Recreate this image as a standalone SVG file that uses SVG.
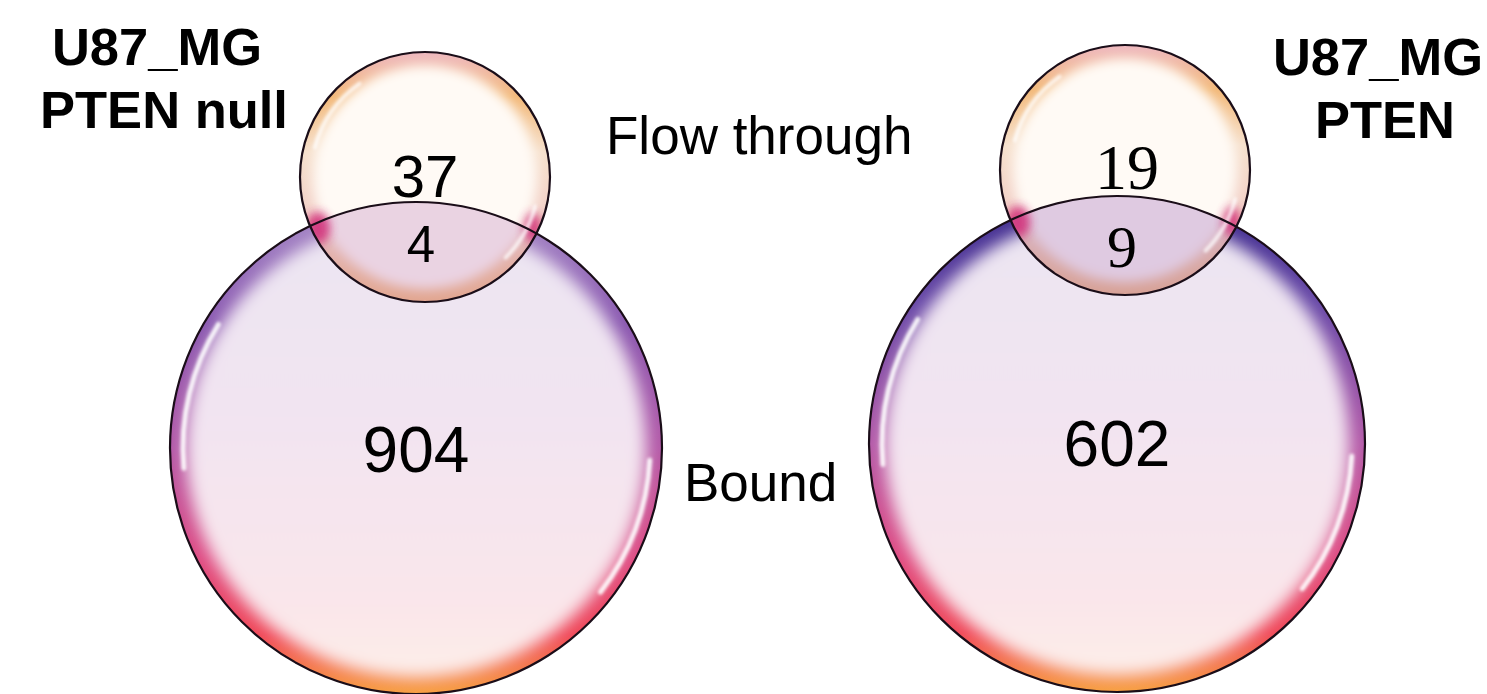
<svg xmlns="http://www.w3.org/2000/svg" width="1487" height="694" viewBox="0 0 1487 694">
<style>
.sans{font-family:"Liberation Sans",Arial,sans-serif;fill:#000}
.serif{font-family:"Liberation Serif","Times New Roman",serif;fill:#000}
.title{font-weight:bold;font-size:52.5px;text-anchor:middle}
.lbl{font-size:53px}
.num{text-anchor:middle}
.edge{fill:none;stroke:#1a0d18;stroke-width:2.2}
.hl{fill:none;stroke:#ffffff;stroke-width:5;stroke-linecap:round;opacity:0.9}
.hls{fill:none;stroke:#ffffff;stroke-width:4;stroke-linecap:round;opacity:0.75}
</style>
<defs>
<linearGradient id="rimBigL" x1="0" y1="0" x2="0" y2="1">
<stop offset="0" stop-color="#a88cc8"/>
<stop offset="0.25" stop-color="#8a58b0"/>
<stop offset="0.5" stop-color="#b45aa8"/>
<stop offset="0.72" stop-color="#de4c84"/>
<stop offset="0.88" stop-color="#f04858"/>
<stop offset="1" stop-color="#f7a040"/>
</linearGradient>
<linearGradient id="rimBigR" x1="0" y1="0" x2="0" y2="1">
<stop offset="0" stop-color="#3a2a8c"/>
<stop offset="0.22" stop-color="#6a4aa8"/>
<stop offset="0.5" stop-color="#b45aa8"/>
<stop offset="0.72" stop-color="#de4c84"/>
<stop offset="0.88" stop-color="#f04858"/>
<stop offset="1" stop-color="#f7a040"/>
</linearGradient>
<linearGradient id="innerBig" x1="0" y1="0" x2="0" y2="1">
<stop offset="0" stop-color="#ebe5f2"/>
<stop offset="0.45" stop-color="#f2e4f1"/>
<stop offset="0.85" stop-color="#fae6ea"/>
<stop offset="1" stop-color="#fdeee8"/>
</linearGradient>
<linearGradient id="rimSmall" x1="0" y1="0" x2="0" y2="1">
<stop offset="0" stop-color="#eeb8c0"/>
<stop offset="0.18" stop-color="#f2b878"/>
<stop offset="0.4" stop-color="#f6e0cc"/>
<stop offset="0.65" stop-color="#f2d0c8"/>
<stop offset="0.88" stop-color="#f0b070"/>
<stop offset="1" stop-color="#eea050"/>
</linearGradient>
<filter id="soft" x="-20%" y="-20%" width="140%" height="140%"><feGaussianBlur stdDeviation="8"/></filter>
<filter id="softS" x="-20%" y="-20%" width="140%" height="140%"><feGaussianBlur stdDeviation="6"/></filter>
<filter id="glow" x="-50%" y="-50%" width="200%" height="200%"><feGaussianBlur stdDeviation="1.6"/></filter>
<filter id="blob" x="-100%" y="-100%" width="300%" height="300%"><feGaussianBlur stdDeviation="5"/></filter>
<clipPath id="clipBigL"><circle cx="416" cy="448" r="246"/></clipPath>
<clipPath id="clipBigR"><circle cx="1117" cy="444" r="248"/></clipPath>
<clipPath id="clipSmallL"><circle cx="425" cy="177" r="125"/></clipPath>
<clipPath id="clipSmallR"><circle cx="1125" cy="170" r="125"/></clipPath>
</defs>
<rect width="1487" height="694" fill="#ffffff"/>

<g id="bound-left">
<circle cx="416" cy="448" r="246" fill="url(#rimBigL)"/>
<g clip-path="url(#clipBigL)"><circle cx="416" cy="448" r="230" fill="url(#innerBig)" filter="url(#soft)"/></g>
<g filter="url(#glow)">
<path class="hl" d="M183.9 468.3 A233 233 0 0 1 218.4 324.5"/>
<path class="hl" d="M649.7 460.2 A234 234 0 0 1 600.4 592.1"/>
</g>
</g>

<g id="flow-left">
<circle cx="425" cy="177" r="125" fill="url(#rimSmall)"/>
<g clip-path="url(#clipSmallL)"><circle cx="425" cy="177" r="112" fill="#fffaf5" filter="url(#softS)"/></g>
<g clip-path="url(#clipSmallL)">
<circle cx="416" cy="448" r="246" fill="#d6acd0" opacity="0.5"/>
<ellipse cx="318" cy="228" rx="12" ry="16" fill="#d02c78" opacity="0.85" filter="url(#blob)"/>
<ellipse cx="533" cy="228" rx="9" ry="15" fill="#d02c78" opacity="0.8" filter="url(#blob)"/>
</g>
<g filter="url(#glow)">
<path class="hls" d="M314.9 147.5 A114 114 0 0 1 359.6 83.6"/>
<path class="hls" d="M535.1 206.5 A114 114 0 0 1 505.6 257.6" stroke="#e8ecff"/>
</g>
</g>

<g id="bound-right">
<circle cx="1117" cy="444" r="248" fill="url(#rimBigR)"/>
<g clip-path="url(#clipBigR)"><circle cx="1117" cy="444" r="232" fill="url(#innerBig)" filter="url(#soft)"/></g>
<g filter="url(#glow)">
<path class="hl" d="M882.9 464.5 A235 235 0 0 1 917.7 319.5"/>
<path class="hl" d="M1351.7 456.3 A235 235 0 0 1 1302.2 588.7"/>
</g>
</g>

<g id="flow-right">
<circle cx="1125" cy="170" r="125" fill="url(#rimSmall)"/>
<g clip-path="url(#clipSmallR)"><circle cx="1125" cy="170" r="112" fill="#fffaf5" filter="url(#softS)"/></g>
<g clip-path="url(#clipSmallR)">
<circle cx="1117" cy="444" r="248" fill="#c4a2d0" opacity="0.55"/>
<ellipse cx="1018" cy="222" rx="12" ry="16" fill="#d02c78" opacity="0.85" filter="url(#blob)"/>
<ellipse cx="1232" cy="222" rx="9" ry="15" fill="#d02c78" opacity="0.8" filter="url(#blob)"/>
</g>
<g filter="url(#glow)">
<path class="hls" d="M1014.9 140.5 A114 114 0 0 1 1059.6 76.6"/>
<path class="hls" d="M1235.1 199.5 A114 114 0 0 1 1205.6 250.6"/>
</g>
</g>

<g id="outlines">
<circle class="edge" cx="416" cy="448" r="246"/>
<circle class="edge" cx="425" cy="177" r="125"/>
<circle class="edge" cx="1117" cy="444" r="248"/>
<circle class="edge" cx="1125" cy="170" r="125"/>
</g>

<g id="labels">
<text class="sans title" x="157" y="65">U87_MG</text>
<text class="sans title" x="164" y="128">PTEN null</text>
<text class="sans title" x="1378" y="75">U87_MG</text>
<text class="sans title" x="1385" y="138">PTEN</text>
<text class="sans lbl" x="606" y="154">Flow through</text>
<text class="sans lbl" x="684" y="501">Bound</text>
<text class="num" x="425" y="197" style="font-family:'Liberation Sans',Arial,sans-serif;font-size:60px">37</text>
<text class="num" x="421" y="262" style="font-family:'Liberation Sans',Arial,sans-serif;font-size:51px">4</text>
<text class="num" x="416" y="472" style="font-family:'Liberation Sans',Arial,sans-serif;font-size:64px">904</text>
<text class="num" x="1127" y="189" style="font-family:'Liberation Serif','Times New Roman',serif;font-size:64px">19</text>
<text class="num" x="1122" y="267" style="font-family:'Liberation Serif','Times New Roman',serif;font-size:60px">9</text>
<text class="num" x="1117" y="466" style="font-family:'Liberation Sans',Arial,sans-serif;font-size:64px">602</text>
</g>
</svg>
